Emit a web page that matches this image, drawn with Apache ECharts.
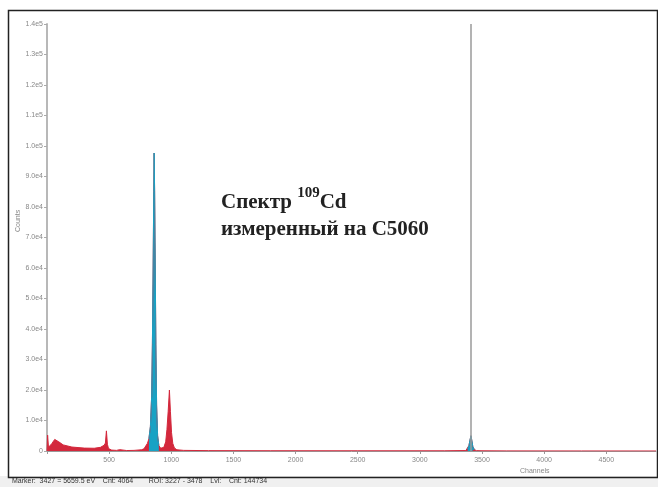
<!DOCTYPE html>
<html><head><meta charset="utf-8">
<script src="https://cdn.jsdelivr.net/npm/echarts@6/dist/echarts.min.js"></script>
<style>html,body{margin:0;padding:0;background:#fff}#c{width:658px;height:487px}</style>
</head><body><div id="c"></div>
<script>
// Spectrum channels and counts
var channels = [0, 5, 12, 40, 62, 72, 95, 130, 200, 300, 380, 430, 460, 470, 478, 486, 495, 520, 560, 585, 600, 640, 700, 760, 780, 795, 808, 820, 832, 842, 848, 854, 859, 862, 866, 871, 876, 882, 890, 900, 915, 928, 940, 955, 965, 975, 985, 993, 1002, 1012, 1025, 1045, 1100, 1300, 1800, 2500, 3200, 3370, 3385, 3395, 3403, 3411, 3418, 3426, 3438, 3455, 3500, 3700, 4300, 4900];
var counts   = [0, 5200, 1200, 2500, 3800, 4100, 3000, 2000, 1300, 950, 900, 1200, 1900, 2600, 6600, 2200, 800, 300, 200, 450, 250, 150, 200, 400, 700, 1300, 2500, 4000, 8000, 18000, 35000, 60000, 85000, 97700, 85000, 60000, 35000, 15000, 5000, 1800, 900, 800, 1200, 3000, 7000, 13000, 20000, 13000, 6000, 2500, 1000, 400, 200, 120, 80, 60, 60, 150, 600, 1800, 3500, 5000, 3500, 1500, 500, 120, 60, 40, 20, 10];
// Regions of interest (highlighted)
var roiStart = [812, 3380];
var roiEnd   = [912, 3450];
// Marker cursor channel
var markerChannel = 3411;
// Tick settings
var xTickStep = 500;
var yTickStep = 10000;
var statusText = 'Marker:  3427 = 5659.5 eV    Cnt: 4064        ROI: 3227 - 3478    Lvl:    Cnt: 144734';

var full = channels.map(function(c, i){ return [c, counts[i]]; });
var roiSeries = roiStart.map(function(s, k){
  return full.filter(function(p){ return p[0] >= s && p[0] <= roiEnd[k]; });
});

var chart = echarts.init(document.getElementById('c'), null, {renderer:'canvas'});
var series = [{
  type:'line', data: full, symbol:'none', silent:true,
  lineStyle:{color:'#d3283c', width:1},
  areaStyle:{color:'#d3283c', opacity:1},
  markLine:{symbol:'none', silent:true, label:{show:false},
    lineStyle:{color:'#9a9a9a', width:1.5, type:'solid'},
    data:[{xAxis: markerChannel}]}
}];
roiSeries.forEach(function(d){
  series.push({type:'line', data:d, symbol:'none', silent:true,
    lineStyle:{color:'#18a2c4', width:1},
    areaStyle:{color:'#18a2c4', opacity:1}});
});

chart.setOption({
  animation:false,
  backgroundColor:'#fff',
  grid:{left:47, right:2, top:24, bottom:36},
  xAxis:{type:'value', min:0, max:4900, interval:xTickStep,
    axisLine:{lineStyle:{color:'#999', width:1}},
    axisTick:{length:3, lineStyle:{color:'#999'}},
    axisLabel:{fontSize:7, color:'#888', margin:6, showMaxLabel:false,
      formatter:function(v){ return v === 0 ? '' : String(v); }},
    splitLine:{show:false}},
  yAxis:{type:'value', min:0, max:140000, interval:yTickStep,
    axisLine:{show:true, lineStyle:{color:'#b8b8b8', width:2}},
    axisTick:{show:true, length:3, lineStyle:{color:'#aaa'}},
    axisLabel:{fontSize:7, color:'#888', margin:4,
      formatter:function(v){ return v === 0 ? '0' : v.toExponential(1).replace('+',''); }},
    splitLine:{show:false}},
  series: series,
  graphic:[
    {type:'rect', shape:{x:0, y:476, width:658, height:11}, style:{fill:'#f0f0f0'}, silent:true},
    {type:'rect', shape:{x:8.5, y:10.5, width:649, height:467}, style:{fill:'none', stroke:'#222', lineWidth:1.5}, silent:true},
    {type:'text', x:12, y:478, style:{text:statusText, fontSize:7, fill:'#333', fontFamily:'Arial'}},
    {type:'text', x:520, y:468, style:{text:'Channels', fontSize:7, fill:'#888', fontFamily:'Arial'}},
    {type:'text', x:15, y:232, rotation:Math.PI/2, style:{text:'Counts', fontSize:7, fill:'#888', fontFamily:'Arial'}},
    {type:'text', x:221, y:186, style:{
      text:'{a|Спектр }{s|109}{a|Cd}\n{a|измеренный на C5060}',
      rich:{
        a:{fontFamily:'Liberation Serif', fontWeight:'bold', fontSize:21, fill:'#222', lineHeight:27, verticalAlign:'bottom'},
        s:{fontFamily:'Liberation Serif', fontWeight:'bold', fontSize:15, fill:'#222', lineHeight:27, verticalAlign:'top'}
      }}}
  ]
});
</script></body></html>
